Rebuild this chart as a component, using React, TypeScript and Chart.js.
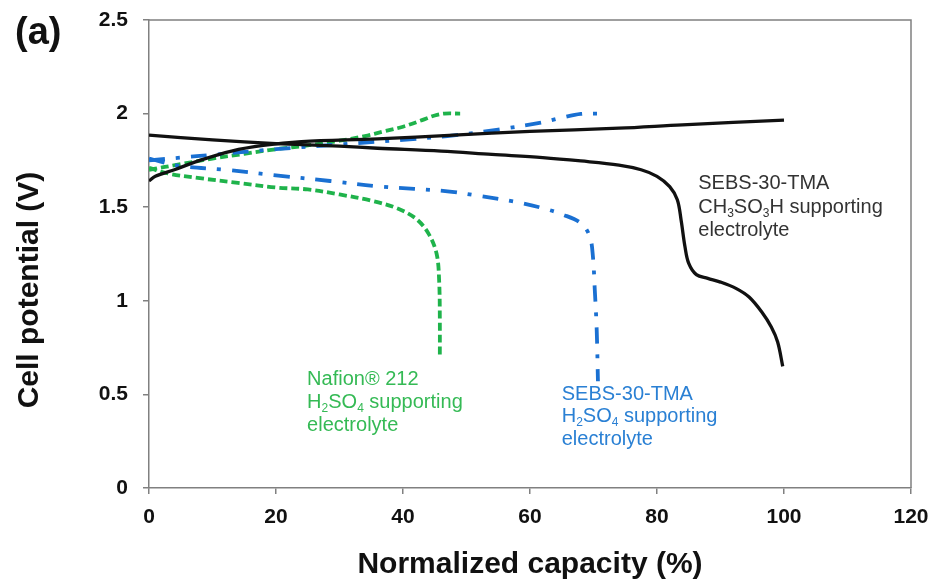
import React, { useEffect, useRef } from "react";
import { Chart, registerables } from "chart.js";

Chart.register(...registerables);

// ---- data (x = normalized capacity %, y = cell potential V) ----
const blackCharge: [number, number][] = [
  [0, 1.64], [1, 1.665], [4, 1.70], [8, 1.75], [13, 1.80], [18, 1.83], [24, 1.85],
  [36, 1.865], [48, 1.885], [60, 1.905], [74, 1.922], [84, 1.94], [100, 1.965],
];
const blackDischarge: [number, number][] = [
  [0, 1.885], [10, 1.86], [20, 1.84], [30, 1.826], [36, 1.815], [46, 1.8], [54, 1.782],
  [62, 1.765], [68, 1.747], [74, 1.725], [77.5, 1.70], [80, 1.665], [82, 1.61],
  [83.2, 1.54], [83.8, 1.43], [84.4, 1.29], [85, 1.2], [86.2, 1.14], [88, 1.12],
  [90, 1.10], [92.5, 1.065], [94.5, 1.02], [96.5, 0.94], [98, 0.86], [99, 0.78], [99.8, 0.65],
];
const blueCharge: [number, number][] = [
  [0, 1.75], [5, 1.765], [10, 1.78], [20, 1.81], [30, 1.835], [40, 1.86], [47, 1.88],
  [55, 1.915], [61.5, 1.95], [65, 1.978], [68, 1.998], [71, 2.0],
];
const blueDischarge: [number, number][] = [
  [0, 1.76], [5, 1.72], [12, 1.70], [20, 1.67], [28.5, 1.64], [36.5, 1.61], [47, 1.585],
  [52, 1.56], [57.5, 1.53], [62, 1.495], [65.2, 1.46], [68, 1.415], [69.4, 1.345],
  [69.9, 1.24], [70.2, 1.06], [70.5, 0.85], [70.7, 0.57],
];
const greenCharge: [number, number][] = [
  [0, 1.70], [5, 1.73], [10, 1.76], [15, 1.785], [20, 1.81], [25, 1.83], [30, 1.855],
  [34, 1.88], [37, 1.905], [40, 1.93], [43, 1.965], [45, 1.99], [46.5, 2.0], [49, 2.0],
];
const greenDischarge: [number, number][] = [
  [0, 1.71], [3, 1.68], [8, 1.655], [14, 1.63], [20, 1.605], [25, 1.595], [30, 1.568],
  [35, 1.535], [39, 1.495], [42, 1.44], [44, 1.36], [45.3, 1.25], [45.7, 1.1],
  [45.8, 0.9], [45.8, 0.71],
];

const xTicks = [0, 20, 40, 60, 80, 100, 120];
const yTicks = [0, 0.5, 1, 1.5, 2, 2.5];

const FONT = "'Liberation Sans', Arial, sans-serif";
const BLACK = "#111111";
const BLUE = "#1a70d2";
const GREEN = "#1fb34b";

type Seg = { t: string; sub?: boolean };
const labels = [
  {
    x: 86.5, y: 1.595, color: "#333333", step: 23.5,
    lines: [
      [{ t: "SEBS-30-TMA" }],
      [{ t: "CH" }, { t: "3", sub: true }, { t: "SO" }, { t: "3", sub: true }, { t: "H supporting" }],
      [{ t: "electrolyte" }],
    ] as Seg[][],
  },
  {
    x: 24.9, y: 0.551, color: "#35ba55", step: 23,
    lines: [
      [{ t: "Nafion® 212" }],
      [{ t: "H" }, { t: "2", sub: true }, { t: "SO" }, { t: "4", sub: true }, { t: " supporting" }],
      [{ t: "electrolyte" }],
    ] as Seg[][],
  },
  {
    x: 65.0, y: 0.471, color: "#2a80d4", step: 22.5,
    lines: [
      [{ t: "SEBS-30-TMA" }],
      [{ t: "H" }, { t: "2", sub: true }, { t: "SO" }, { t: "4", sub: true }, { t: " supporting" }],
      [{ t: "electrolyte" }],
    ] as Seg[][],
  },
];

const toXY = (a: [number, number][]) => a.map(([x, y]) => ({ x, y }));

const decorPlugin = {
  id: "decor",
  afterDraw(chart: any) {
    const { ctx, chartArea, scales } = chart;
    ctx.save();
    // frame top/right
    ctx.strokeStyle = "#808080";
    ctx.lineWidth = 1.5;
    ctx.beginPath();
    ctx.moveTo(chartArea.left, chartArea.top);
    ctx.lineTo(chartArea.right, chartArea.top);
    ctx.lineTo(chartArea.right, chartArea.bottom);
    ctx.stroke();

    // (a)
    ctx.fillStyle = "#111";
    ctx.font = `bold 38px ${FONT}`;
    ctx.textAlign = "left";
    ctx.textBaseline = "alphabetic";
    ctx.fillText("(a)", 15, 44);

    // axis titles
    ctx.font = `bold 30px ${FONT}`;
    ctx.textAlign = "center";
    ctx.fillText("Normalized capacity (%)", (chartArea.left + chartArea.right) / 2, 573);
    ctx.save();
    ctx.translate(38, 290);
    ctx.rotate(-Math.PI / 2);
    ctx.fillText("Cell potential (V)", 0, 0);
    ctx.restore();

    // annotations
    ctx.textAlign = "left";
    const size = 20;
    for (const lab of labels) {
      const x0 = scales.x.getPixelForValue(lab.x);
      const y0 = scales.y.getPixelForValue(lab.y);
      ctx.fillStyle = lab.color;
      lab.lines.forEach((segs, i) => {
        let cx = x0;
        const by = y0 + i * lab.step;
        for (const s of segs) {
          ctx.font = s.sub ? `${Math.round(size * 0.62)}px ${FONT}` : `${size}px ${FONT}`;
          ctx.fillText(s.t, cx, s.sub ? by + 4 : by);
          cx += ctx.measureText(s.t).width;
        }
      });
    }
    ctx.restore();
  },
};

const zeroPad = (s: any) => {
  s.paddingTop = 0;
  s.paddingBottom = 0;
  s.paddingLeft = 0;
  s.paddingRight = 0;
};

export default function App() {
  const ref = useRef<HTMLCanvasElement | null>(null);
  useEffect(() => {
    if (!ref.current) return;
    const line = (data: [number, number][], color: string, dash: number[], width: number) => ({
      data: toXY(data),
      borderColor: color,
      backgroundColor: color,
      borderWidth: width,
      borderDash: dash,
      borderCapStyle: "butt",
      pointRadius: 0,
      showLine: true,
      tension: 0.35,
      fill: false,
    });
    const chart = new Chart(ref.current, {
      type: "scatter",
      data: {
        datasets: [
          line(blackDischarge, BLACK, [], 3.3),
          line(blackCharge, BLACK, [], 3.3),
          line(blueDischarge, BLUE, [16, 11, 4, 11], 3.8),
          line(blueCharge, BLUE, [16, 11, 4, 11], 3.8),
          line(greenDischarge, GREEN, [8, 4], 3.8),
          line(greenCharge, GREEN, [8, 4], 3.8),
        ] as any,
      },
      options: {
        animation: false,
        responsive: false,
        maintainAspectRatio: false,
        layout: { padding: { left: 0, top: 20, right: 25, bottom: 0 } },
        plugins: { legend: { display: false }, tooltip: { enabled: false } },
        scales: {
          x: {
            type: "linear",
            min: 0,
            max: 120,
            afterBuildTicks: (s: any) => { s.ticks = xTicks.map((v) => ({ value: v })); },
            afterFit: (s: any) => { s.height = 96; zeroPad(s); },
            ticks: {
              padding: 11,
              color: "#111",
              font: { family: FONT, size: 21, weight: "bold" },
              callback: (v: any) => String(v),
              maxRotation: 0,
            },
            grid: { display: true, drawOnChartArea: false, drawTicks: true, tickLength: 6, color: "#808080", lineWidth: 1.5 },
            border: { display: true, color: "#808080", width: 1.5 },
          },
          y: {
            type: "linear",
            min: 0,
            max: 2.5,
            afterBuildTicks: (s: any) => { s.ticks = yTicks.map((v) => ({ value: v })); },
            afterFit: (s: any) => { s.width = 149; zeroPad(s); },
            ticks: {
              padding: 15,
              color: "#111",
              font: { family: FONT, size: 21, weight: "bold" },
              callback: (v: any) => String(v),
            },
            grid: { display: true, drawOnChartArea: false, drawTicks: true, tickLength: 6, color: "#808080", lineWidth: 1.5 },
            border: { display: true, color: "#808080", width: 1.5 },
          },
        },
      } as any,
      plugins: [decorPlugin],
    });
    return () => chart.destroy();
  }, []);
  return (
    <div style={{ position: "fixed", left: 0, top: 0, width: 936, height: 584, background: "#fff" }}>
      <canvas ref={ref} width={936} height={584} style={{ display: "block" }} />
    </div>
  );
}
